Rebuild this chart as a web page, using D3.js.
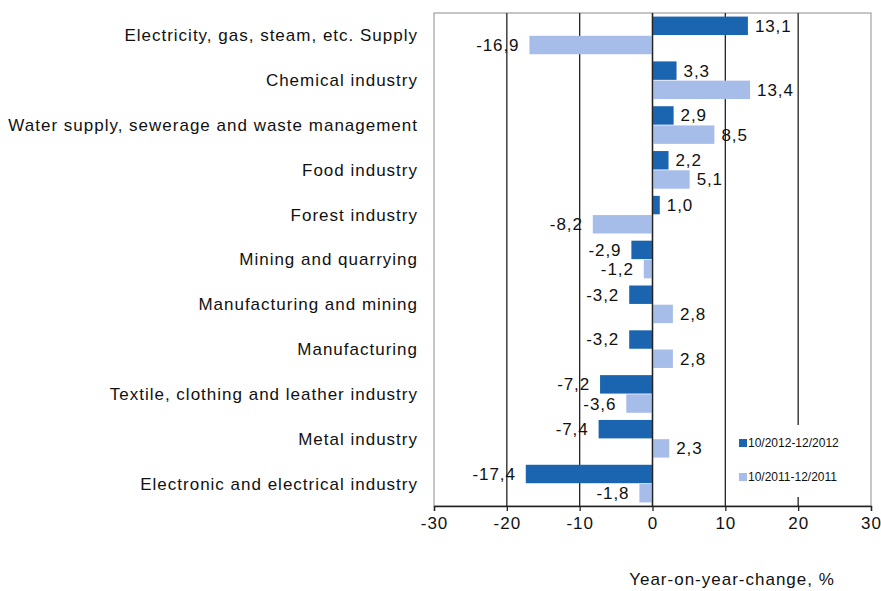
<!DOCTYPE html>
<html><head><meta charset="utf-8">
<script src="https://cdn.jsdelivr.net/npm/d3@7"></script>
<style>body{margin:0;background:#fff}svg{display:block}text{font-family:"Liberation Sans",Arial,sans-serif}</style>
</head><body><svg id="c" width="881" height="591"></svg>
<script>
const categories = ["Electricity, gas, steam, etc. Supply","Chemical industry","Water supply, sewerage and waste management","Food industry","Forest industry","Mining and quarrying","Manufacturing and mining","Manufacturing","Textile, clothing and leather industry","Metal industry","Electronic and electrical industry"];
const series2012 = [13.1,3.3,2.9,2.2,1.0,-2.9,-3.2,-3.2,-7.2,-7.4,-17.4];
const series2011 = [-16.9,13.4,8.5,5.1,-8.2,-1.2,2.8,2.8,-3.6,2.3,-1.8];
const seriesNames = ["10/2012-12/2012","10/2011-12/2011"];
const xTicks = [-30,-20,-10,0,10,20,30];
const colors = ["#1b65b0","#a7bde9"];

const svg = d3.select("#c");
const L=434,R=871,T=13,B=506;
const x = d3.scaleLinear().domain([-30,30]).range([L,R]);
const y = d3.scaleBand().domain(categories).range([T,B]).paddingInner(0.16).paddingOuter(0.08);
const ys = d3.scaleBand().domain([0,1]).range([0,y.bandwidth()]).paddingInner(0.04);

svg.append("rect").attr("x",L).attr("y",T).attr("width",R-L).attr("height",B-T).attr("fill","none").attr("stroke","#a0a0a0").attr("stroke-width",1.2);
svg.append("g").selectAll("line").data(xTicks.filter(d=>d>-30&&d<30)).join("line")
  .attr("x1",d=>x(d)).attr("x2",d=>x(d)).attr("y1",T).attr("y2",B).attr("stroke","#222").attr("stroke-width",1.3);

const data=[series2012,series2011];
data.forEach((s,i)=>{
  svg.append("g").selectAll("rect").data(s).join("rect")
   .attr("x",d=>x(Math.min(0,d))).attr("width",d=>Math.abs(x(d)-x(0)))
   .attr("y",(d,j)=>y(categories[j])+ys(i)).attr("height",ys.bandwidth())
   .attr("fill",colors[i]);
  svg.append("g").selectAll("text").data(s).join("text")
   .attr("x",d=>d>=0?x(d)+7:x(d)-10)
   .attr("y",(d,j)=>y(categories[j])+ys(i)+ys.bandwidth()/2)
   .attr("dy","0.35em").attr("text-anchor",d=>d>=0?"start":"end")
   .attr("font-size",17).attr("letter-spacing","0.9").attr("fill","#111")
   .text(d=>d3.format(".1f")(d).replace(".",",").replace("−","-"));
});
svg.append("line").attr("x1",x(0)).attr("x2",x(0)).attr("y1",T).attr("y2",B).attr("stroke","#222").attr("stroke-width",1.3);

svg.append("g").selectAll("text").data(categories).join("text")
  .attr("x",418).attr("y",d=>y(d)+y.bandwidth()/2).attr("dy","0.35em").attr("text-anchor","end")
  .attr("font-size",17).attr("fill","#111").attr("letter-spacing","1.0").text(d=>d);

const ax = svg.append("g").attr("transform",`translate(0,${B})`).call(d3.axisBottom(x).tickValues(xTicks).tickSize(5).tickFormat(d=>d));
ax.select(".domain").attr("stroke","#222").attr("stroke-width",1.3);
ax.selectAll(".tick line").attr("stroke","#222").attr("stroke-width",1.3);
ax.selectAll("text").attr("font-size",17).attr("letter-spacing","1").attr("fill","#111").attr("dy","0.9em").attr("font-family","Liberation Sans, Arial, sans-serif");

const lg = svg.append("g");
lg.append("rect").attr("x",733).attr("y",425).attr("width",112).attr("height",72).attr("fill","#fff");
seriesNames.forEach((n,i)=>{
  const yy = 443 + i*34;
  lg.append("rect").attr("x",739).attr("y",yy-4).attr("width",8).attr("height",8).attr("fill",colors[i]);
  lg.append("text").attr("x",748).attr("y",yy).attr("dy","0.35em").attr("font-size",12).attr("fill","#111").text(n);
});

svg.append("text").attr("x",732).attr("y",585).attr("text-anchor","middle").attr("font-size",17).attr("letter-spacing","1").attr("fill","#111").text("Year-on-year-change, %");
</script></body></html>
